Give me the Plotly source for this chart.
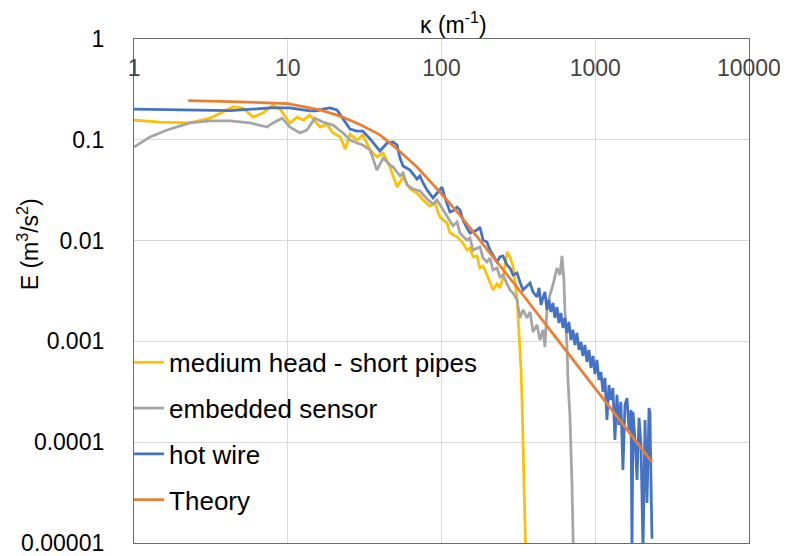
import plotly.graph_objects as go

# ---- data (kappa in 1/m, E in m^3/s^2) ----
kappa_short = [1.0, 1.48, 2.31, 3.12, 4.40, 5.12, 5.94, 6.90, 8.02, 8.91, 10.3, 11.5, 12.6, 13.9,
               16.2, 18.0, 19.7, 21.9, 23.6, 25.4, 28.2, 30.8, 34.3, 38.0, 41.7, 46.2, 51.4, 56.2,
               62.4, 69.3, 75.9, 84.1, 90.7, 97.7, 108.6, 113.5, 126.2, 138.0, 146.5, 153.2, 160.3,
               170.2, 177.9, 186.3, 197.6, 206.6, 216.3, 229.6, 240, 251, 267, 279, 292, 310, 319,
               329, 334, 339, 344, 349, 355]
E_short = [0.157, 0.150, 0.147, 0.164, 0.212, 0.207, 0.168, 0.185, 0.221, 0.202, 0.147, 0.168, 0.157,
           0.176, 0.134, 0.143, 0.117, 0.107, 0.0810, 0.114, 0.0995, 0.112, 0.0792, 0.0675, 0.0740,
           0.0537, 0.0340, 0.0428, 0.0325, 0.0297, 0.0253, 0.0220, 0.0236, 0.0171, 0.0150, 0.0119,
           0.0109, 0.00946, 0.00807, 0.00845, 0.00688, 0.00704, 0.00535, 0.00560, 0.00456, 0.00379,
           0.00324, 0.00371, 0.00339, 0.00426, 0.00771, 0.00688, 0.00560, 0.00270, 0.00130, 0.000520,
           0.000262, 0.000105, 0.0000422, 0.0000169, 0.0000054]

kappa_embedded = [1.0, 1.27, 1.64, 2.31, 3.12, 4.21, 5.68, 7.33, 8.02, 9.18, 10.3, 12.0, 13.3, 15.0,
                  16.9, 19.7, 22.9, 25.4, 28.2, 30.8, 34.3, 38.0, 41.7, 46.2, 48.4, 53.7, 56.2, 59.7,
                  65.3, 72.4, 80.5, 88.1, 93.5, 97.7, 108.6, 118.9, 126.2, 131.9, 146.5, 153.2, 160.3,
                  177.9, 186.3, 197.6, 206.6, 216.3, 229.6, 240, 251, 267, 279, 292, 310, 324, 339,
                  360, 377, 394, 418, 437, 457, 471, 485, 508, 531, 564, 590, 608, 626, 635, 655, 665,
                  685, 706, 716, 727]
E_embedded = [0.0849, 0.107, 0.125, 0.147, 0.154, 0.154, 0.147, 0.134, 0.147, 0.164, 0.134, 0.117,
              0.125, 0.164, 0.150, 0.140, 0.117, 0.0995, 0.0929, 0.0888, 0.0792, 0.0501, 0.0660,
              0.0562, 0.0537, 0.0438, 0.0469, 0.0356, 0.0325, 0.0311, 0.0259, 0.0231, 0.0253, 0.0226,
              0.0175, 0.0140, 0.0153, 0.0119, 0.0101, 0.0106, 0.00807, 0.00865, 0.00672, 0.00614,
              0.00672, 0.00511, 0.00535, 0.00435, 0.00456, 0.00371, 0.00324, 0.00302, 0.00258,
              0.00171, 0.00205, 0.00171, 0.00196, 0.00124, 0.00146, 0.00103, 0.00130, 0.000879,
              0.00205, 0.00289, 0.00363, 0.00535, 0.00456, 0.00704, 0.00406, 0.00205, 0.000921,
              0.000414, 0.000178, 0.0000394, 0.0000100, 0.0000044]

kappa_hotwire = [1.0, 1.99, 4.21, 7.67, 10.3, 13.9, 15.5, 16.9, 18.8, 20.9, 22.9, 25.4, 28.2, 30.8,
                 34.3, 38.0, 39.8, 44.2, 48.4, 51.4, 53.7, 56.2, 62.4, 69.3, 72.4, 75.9, 80.5, 88.1,
                 93.5, 100.7, 105.4, 113.5, 118.9, 126.2, 131.9, 138.0, 146.5, 153.2, 170.2, 177.9,
                 186.3, 197.6, 206.6, 229.6, 240, 251, 267, 279, 292, 310, 324, 339, 360, 377, 394,
                 418, 431, 444, 457, 471, 485, 500, 515, 531, 547, 564, 581, 598, 617, 635, 655, 675,
                 695, 716, 738, 760, 784, 807, 832, 857, 883, 910, 938, 967, 996, 1026, 1057, 1089,
                 1123, 1157, 1192, 1228, 1265, 1304, 1343, 1385, 1426, 1469, 1515, 1561, 1610, 1659,
                 1710, 1734, 1762, 1815, 1871, 1928, 1986, 2046, 2109, 2173, 2239, 2271, 2305, 2340]
E_hotwire = [0.202, 0.200, 0.195, 0.207, 0.207, 0.194, 0.194, 0.202, 0.207, 0.198, 0.161, 0.128,
             0.122, 0.122, 0.102, 0.0829, 0.0774, 0.0929, 0.0951, 0.0888, 0.0660, 0.0550, 0.0501,
             0.0408, 0.0438, 0.0373, 0.0318, 0.0265, 0.0297, 0.0340, 0.0265, 0.0192, 0.0197, 0.0215,
             0.0201, 0.0160, 0.0133, 0.0119, 0.0127, 0.0136, 0.0101, 0.00969, 0.00807, 0.00614,
             0.00688, 0.00704, 0.00573, 0.00535, 0.00456, 0.00477, 0.00388, 0.00324, 0.00355,
             0.00379, 0.00309, 0.00276, 0.00339, 0.00230, 0.00270, 0.00309, 0.00205, 0.00258,
             0.00196, 0.00240, 0.00171, 0.00219, 0.00152, 0.00191, 0.00136, 0.00171, 0.00121,
             0.00156, 0.00103, 0.00130, 0.000921, 0.00121, 0.000822, 0.000986, 0.000716, 0.000921,
             0.000625, 0.000822, 0.000545, 0.000716, 0.000475, 0.000654, 0.000414, 0.000497,
             0.000315, 0.000434, 0.000166, 0.000369, 0.000262, 0.000345, 0.000105, 0.000294,
             0.000148, 0.000251, 0.0000530, 0.000234, 0.000274, 0.000132, 0.000208, 0.000008,
             0.000200, 0.000105, 0.0000422, 0.000174, 0.0000938, 0.000008, 0.000166, 0.0000249,
             0.000218, 0.000195, 0.0000422, 0.000011]

kappa_theory = [2.25, 4.21, 10, 16.2, 21.9, 29.5, 39.8, 51.4, 69.3, 97.7, 131.9, 197.6, 324, 655,
                1247, 2340]
E_theory = [0.245, 0.240, 0.229, 0.198, 0.172, 0.142, 0.112, 0.0810, 0.0537, 0.0303, 0.0179,
            0.00826, 0.00316, 0.000785, 0.000223, 0.0000636]

series_names = ["medium head - short pipes", "embedded sensor", "hot wire", "Theory"]
series_colors = ["#FFC000", "#A5A5A5", "#4472C4", "#ED7D31"]

x_tick_vals = [1, 10, 100, 1000, 10000]
x_tick_text = ["1", "10", "100", "1000", "10000"]
y_tick_vals = [1, 0.1, 0.01, 0.001, 0.0001, 0.00001]
y_tick_text = ["1", "0.1", "0.01", "0.001", "0.0001", "0.00001"]

xs = [kappa_short, kappa_embedded, kappa_hotwire, kappa_theory]
ys = [E_short, E_embedded, E_hotwire, E_theory]

fig = go.Figure()
for name, xv, yv, col in zip(series_names, xs, ys, series_colors):
    fig.add_trace(go.Scatter(x=xv, y=yv, mode="lines", name=name, legendgroup=name,
                             line=dict(color=col, width=2.75)))

FONT = "Liberation Sans, Arial, sans-serif"
fig.update_layout(
    width=780, height=548,
    margin=dict(l=126, r=39, t=31, b=13),
    paper_bgcolor="white", plot_bgcolor="white",
    font=dict(family=FONT, size=23, color="black"),
    showlegend=True,
    legend=dict(x=-0.008, y=0.405, xanchor="left", yanchor="top",
                font=dict(family=FONT, size=26, color="black"),
                bgcolor="rgba(0,0,0,0)", tracegroupgap=9, itemwidth=30,
                borderwidth=0),
    annotations=[
        dict(text="\u03ba (m<sup>-1</sup>)", xref="paper", yref="paper", x=0.519, y=1.032,
             xanchor="center", yanchor="middle", showarrow=False,
             font=dict(family=FONT, size=23, color="black")),
        dict(text="E (m<sup>3</sup>/s<sup>2</sup>)", xref="paper", yref="paper", x=-0.172, y=0.593,
             xanchor="center", yanchor="middle", showarrow=False, textangle=-90,
             font=dict(family=FONT, size=23, color="black")),
    ],
)
fig.update_xaxes(type="log", range=[-0.0005, 4.0005], side="top", tickvals=x_tick_vals,
                 ticktext=x_tick_text,
                 ticklabelposition="inside", ticklabeloverflow="allow", ticklabelstandoff=22,
                 ticks="", showgrid=True, gridcolor="#D9D9D9", gridwidth=1,
                 showline=True, linecolor="#6b6b6b", linewidth=1.3, mirror=True,
                 zeroline=False, automargin=False)
fig.update_yaxes(type="log", range=[-5.001, 0.0005], tickvals=y_tick_vals, ticktext=y_tick_text,
                 ticks="", ticklabelstandoff=24, showgrid=True, gridcolor="#D9D9D9", gridwidth=1,
                 showline=True, linecolor="#6b6b6b", linewidth=1.3, mirror=True,
                 zeroline=False, automargin=False)

fig.write_html("out.html")
